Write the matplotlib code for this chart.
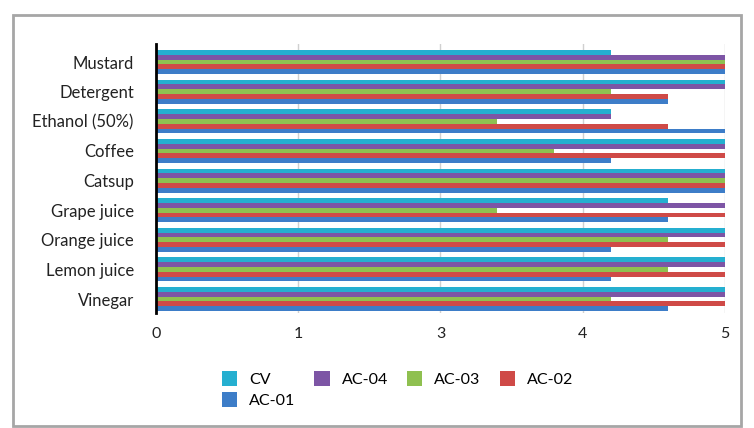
import matplotlib
matplotlib.use("Agg")
import matplotlib.pyplot as plt
import numpy as np
from matplotlib.patches import Rectangle

plt.rcParams['font.family'] = ['Lato', 'DejaVu Sans']

categories = ["Mustard", "Detergent", "Ethanol (50%)", "Coffee", "Catsup",
              "Grape juice", "Orange juice", "Lemon juice", "Vinegar"]
series_names = ["CV", "AC-04", "AC-03", "AC-02", "AC-01"]
cv    = [4.2, 5.0, 4.2, 5.0, 5.0, 4.6, 5.0, 5.0, 5.0]
ac_04 = [5.0, 5.0, 4.2, 5.0, 5.0, 5.0, 5.0, 5.0, 5.0]
ac_03 = [5.0, 4.2, 3.4, 3.8, 5.0, 3.4, 4.6, 4.6, 4.2]
ac_02 = [5.0, 4.6, 4.6, 5.0, 5.0, 5.0, 5.0, 5.0, 5.0]
ac_01 = [5.0, 4.6, 5.0, 4.2, 5.0, 4.6, 4.2, 4.2, 4.6]
tick_values = [1, 2, 3, 4, 5]
tick_labels = ["0", "1", "3", "4", "5"]

colors = ["#25afd0", "#7d55a5", "#8fc050", "#cf4a47", "#3d7dc8"]
series = [cv, ac_04, ac_03, ac_02, ac_01]

W, H = 754, 428
fig = plt.figure(figsize=(W / 100, H / 100), dpi=100)
fig.patch.set_facecolor("white")
ax = fig.add_axes([156 / W, 1 - 313 / H, (725 - 156) / W, (313 - 44) / H])

y = np.arange(len(categories))
h = 0.162
handles = []
for i, (vals, col, name) in enumerate(zip(series, colors, series_names)):
    b = ax.barh(y + (i - 2) * h, vals, height=h, color=col, label=name, zorder=3)
    handles.append(b)

ax.set_xlim(1, 5)
ax.set_ylim(8.47, -0.61)
ax.set_xticks(tick_values)
ax.set_xticklabels(tick_labels)
ax.set_yticks(y)
ax.set_yticklabels(categories)
ax.tick_params(axis='both', length=0, labelsize=11.5, colors="#222222")
ax.tick_params(axis='y', pad=16, labelsize=12)
ax.tick_params(axis='x', pad=10)
ax.grid(axis='x', color="#d0d0d0", linewidth=1, zorder=0)
for s in ["top", "right", "bottom"]:
    ax.spines[s].set_visible(False)
ax.spines["left"].set_color("black")
ax.spines["left"].set_linewidth(2)
ax.spines["left"].set_zorder(4)

order = [0, 4, 1, 2, 3]
fig.legend([handles[k] for k in order], [series_names[k] for k in order],
           loc="upper left", bbox_to_anchor=(209 / W, 1 - 358 / H),
           ncol=4, frameon=False, fontsize=11.5, handlelength=0.95,
           handleheight=1.1, columnspacing=1.2, handletextpad=0.75,
           labelspacing=0.3, borderpad=0.3)

fig.add_artist(Rectangle((13 / W, 1 - 426 / H), (741 - 13) / W, (426 - 15) / H,
                         transform=fig.transFigure, fill=False,
                         edgecolor="#a6a6a6", linewidth=2))

fig.savefig("out.png", dpi=100)
